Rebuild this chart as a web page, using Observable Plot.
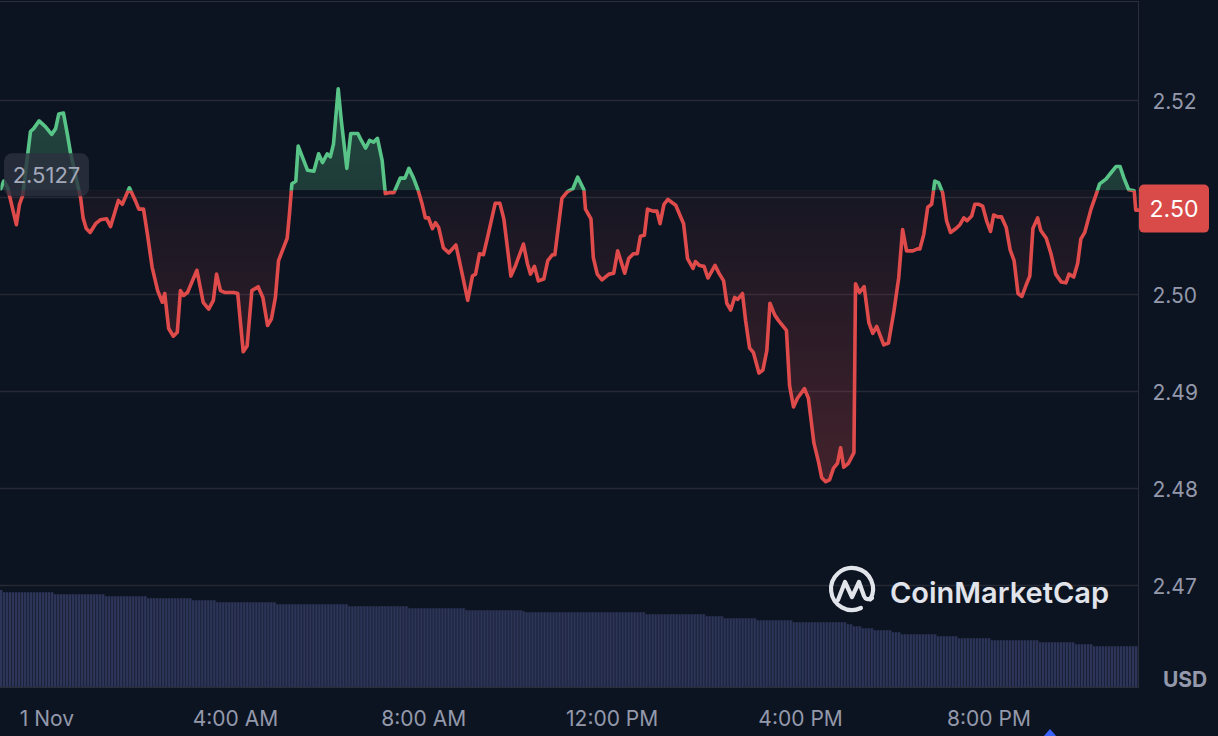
<!DOCTYPE html>
<html><head><meta charset="utf-8">
<script src="https://cdn.jsdelivr.net/npm/d3@7"></script>
<script src="https://cdn.jsdelivr.net/npm/@observablehq/plot@0.6"></script>
<style>
html,body{margin:0;padding:0;background:#0d1421;}
#chart{position:relative;width:1218px;height:736px;overflow:hidden;background:#0d1421;font-family:Inter,"Noto Sans",sans-serif;}
#chart svg{position:absolute;left:0;}
#frame{position:absolute;left:0;top:1px;width:1139px;height:687px;border-top:1px solid #2a2e3a;border-right:1px solid #2a2e3a;box-sizing:border-box;}
</style></head><body><div id="chart"><div id="frame"></div></div>
<script>
// ---- data (minutes from 1 Nov 00:00, price in USD) ----
const priceMinutes = [-59,-55,-50,-46,-39,-35,-31,-21,-17,-10,-2,6,11,15,21,26,30,43,46,50,55,62,68,76,81,91,96,105,113,117,123,128,134,141,147,150,155,161,166,170,174,179,191,199,206,212,216,221,227,238,243,250,255,261,269,275,281,286,291,295,306,309,312,317,320,332,340,346,351,357,361,365,371,375,382,387,396,399,406,411,416,421,427,431,436,442,450,456,461,467,473,478,482,486,491,495,499,505,512,521,529,536,542,546,551,556,561,571,577,582,591,597,607,612,616,621,626,633,638,644,647,656,663,670,676,684,686,693,696,701,707,716,722,727,736,741,747,752,756,761,765,772,777,781,786,791,801,811,816,823,826,831,837,842,851,856,862,866,871,876,880,886,890,895,900,907,912,917,921,927,932,942,946,951,956,965,970,977,983,987,992,997,1002,1007,1011,1015,1021,1028,1030,1035,1041,1047,1052,1057,1066,1072,1079,1085,1090,1095,1103,1109,1112,1117,1122,1127,1131,1136,1141,1146,1151,1158,1163,1168,1172,1178,1182,1187,1192,1197,1202,1206,1211,1216,1222,1227,1232,1237,1242,1247,1252,1256,1262,1266,1273,1279,1285,1292,1298,1302,1308,1313,1317,1322,1330,1336,1341,1349,1355,1362,1367,1372,1378,1385,1387,1391];
const priceValues = [2.5109,2.5117,2.5110,2.5096,2.5072,2.5093,2.5102,2.5168,2.5171,2.5179,2.5173,2.5165,2.5171,2.5186,2.5187,2.5165,2.5146,2.5099,2.5079,2.5068,2.5064,2.5073,2.5077,2.5078,2.5070,2.5097,2.5093,2.5110,2.5096,2.5088,2.5088,2.5062,2.5028,2.5004,2.4992,2.5001,2.4965,2.4957,2.4961,2.5004,2.4999,2.5002,2.5025,2.4992,2.4985,2.4994,2.5021,2.5004,2.5002,2.5002,2.5001,2.4941,2.4947,2.5004,2.5008,2.4997,2.4968,2.4975,2.4997,2.5035,2.5058,2.5084,2.5114,2.5117,2.5153,2.5128,2.5127,2.5145,2.5136,2.5145,2.5142,2.5155,2.5212,2.5179,2.5130,2.5166,2.5166,2.5161,2.5151,2.5159,2.5157,2.5161,2.5138,2.5104,2.5105,2.5105,2.5120,2.5120,2.5130,2.5120,2.5107,2.5093,2.5079,2.5079,2.5068,2.5074,2.5069,2.5048,2.5043,2.5051,2.5021,2.4994,2.5019,2.5021,2.5042,2.5041,2.5058,2.5094,2.5094,2.5078,2.5019,2.5030,2.5052,2.5032,2.5021,2.5029,2.5014,2.5016,2.5035,2.5041,2.5041,2.5099,2.5106,2.5109,2.5121,2.5108,2.5088,2.5078,2.5038,2.5021,2.5015,2.5021,2.5022,2.5045,2.5022,2.5037,2.5042,2.5042,2.5060,2.5061,2.5088,2.5086,2.5086,2.5073,2.5093,2.5098,2.5092,2.5073,2.5037,2.5027,2.5034,2.5030,2.5029,2.5017,2.5030,2.5022,2.5014,2.4991,2.4984,2.4997,2.4995,2.5001,2.4973,2.4945,2.4940,2.4919,2.4922,2.4942,2.4991,2.4979,2.4973,2.4963,2.4906,2.4884,2.4893,2.4903,2.4893,2.4847,2.4827,2.4811,2.4807,2.4809,2.4821,2.4826,2.4842,2.4822,2.4826,2.4837,2.5011,2.5002,2.5008,2.4971,2.4960,2.4967,2.4948,2.4950,2.4983,2.5017,2.5067,2.5045,2.5045,2.5047,2.5047,2.5062,2.5090,2.5093,2.5117,2.5115,2.5105,2.5076,2.5064,2.5068,2.5072,2.5079,2.5076,2.5081,2.5093,2.5093,2.5091,2.5076,2.5065,2.5082,2.5080,2.5080,2.5069,2.5046,2.5035,2.5001,2.4998,2.5009,2.5019,2.5068,2.5079,2.5066,2.5058,2.5042,2.5021,2.5013,2.5012,2.5021,2.5018,2.5032,2.5057,2.5064,2.5088,2.5102,2.5114,2.5119,2.5125,2.5132,2.5132,2.5120,2.5108,2.5107,2.5087,2.5087];

// volume: step levels (relative units) starting at these minutes
const volumeStepStart = [-60,-57,8,72,128,183,213,292,383,458,533,603,610,762,838,859,903,947,1018,1026,1036,1052,1075,1085,1134,1160,1202,1262,1308,1333];
const volumeStepLevel = [97,94.7,92.7,90.7,88.7,86.7,84.7,82.7,80.7,78.7,76.7,75.7,74.7,72.7,70.7,68.7,66.7,64.7,62.7,60.7,58.7,56.7,54.7,52.7,50.7,48.7,46.7,44.7,42.7,40.7];
const volumeBarCount = 379;

const gridValues = [2.47, 2.48, 2.49, 2.50, 2.51, 2.52];
// 2.51 label is hidden behind the last-price badge in the reference
const yLabelValues = [2.47, 2.48, 2.49, 2.50, 2.52];
const yLabelTexts = ["2.47", "2.48", "2.49", "2.50", "2.52"];
const xTickMinutes = [0, 240, 480, 720, 960, 1200];
const xTickLabels = ["1 Nov", "4:00 AM", "8:00 AM", "12:00 PM", "4:00 PM", "8:00 PM"];
const domainMinutes = [-59.2, 1390.5];

const openPrice = 2.5127, openLabel = "2.5127";
const splitPrice = 2.5107;
const lastLabel = "2.50";
const unitLabel = "USD";
const brandLabel = "CoinMarketCap";

// ---- build ----
const T0 = Date.UTC(2023, 10, 1);
const toDate = m => new Date(T0 + m * 60000);
const prices = priceMinutes.map((m, i) => ({t: toDate(m), p: priceValues[i]}));
const xDomain = [toDate(domainMinutes[0]), toDate(domainMinutes[1])];
const X_RANGE = [0, 1138];
const GREEN = "#58c487", RED = "#df4b4b", LABEL = "#9399ab", GRID = "#262a36";

const barSpan = (domainMinutes[1] - domainMinutes[0]) / volumeBarCount;
const bars = d3.range(volumeBarCount).map(i => {
  const m0 = domainMinutes[0] + i * barSpan;
  const k = Math.max(0, d3.bisectRight(volumeStepStart, m0) - 1);
  return {t1: toDate(m0), t2: toDate(m0 + barSpan), v: volumeStepLevel[k]};
});

const chart = document.getElementById("chart");

const vol = Plot.plot({
  width: 1218, height: 101, marginLeft: 0, marginRight: 80, marginTop: 0, marginBottom: 1,
  x: {type: "utc", domain: xDomain, range: X_RANGE, axis: null},
  y: {domain: [0, 100], range: [100, 0], axis: null},
  style: {background: "transparent"},
  marks: [
    Plot.rect(bars, {x1: "t1", x2: "t2", y1: 0, y2: "v", fill: "#1c2239"}),
    Plot.rect(bars, {x1: "t1", x2: "t2", y1: 0, y2: "v", fill: "#2d3659", insetRight: 1}),
    Plot.ruleY([0], {stroke: "#2a2e3a", strokeWidth: 1.5})
  ]
});
vol.style.top = "587px";
chart.appendChild(vol);

const main = Plot.plot({
  width: 1218, height: 736, marginLeft: 0, marginRight: 80, marginTop: 0, marginBottom: 49,
  x: {type: "utc", domain: xDomain, range: X_RANGE, axis: null},
  y: {domain: [2.47, 2.52], range: [585, 100], axis: null},
  style: {background: "transparent", fontFamily: "Inter, 'Noto Sans', sans-serif", overflow: "visible"},
  marks: [
    Plot.ruleY(gridValues, {stroke: GRID, strokeWidth: 1.5}),
    Plot.areaY(prices, {x: "t", y1: () => splitPrice, y2: "p", fill: GREEN}),
    Plot.areaY(prices, {x: "t", y1: () => splitPrice, y2: "p", fill: RED}),
    Plot.line(prices, {x: "t", y: "p", stroke: GREEN, strokeWidth: 3.6}),
    Plot.line(prices, {x: "t", y: "p", stroke: RED, strokeWidth: 3.6}),
    Plot.text(yLabelValues, {y: d => d, text: (d, i) => yLabelTexts[i], frameAnchor: "right", textAnchor: "start", dx: 14, dy: 2, fill: LABEL, fontSize: 21}),
    Plot.text(xTickMinutes, {x: d => toDate(d), text: (d, i) => xTickLabels[i], frameAnchor: "bottom", dy: 38, fill: LABEL, fontSize: 21})
  ]
});
main.style.top = "0px";
chart.appendChild(main);

// ---- post-processing: split colouring, gradients, annotations ----
const ns = "http://www.w3.org/2000/svg";
function el(tag, attrs, parent) {
  const e = document.createElementNS(ns, tag);
  for (const k in attrs) e.setAttribute(k, attrs[k]);
  if (parent) parent.appendChild(e);
  return e;
}
let ys;
try { ys = main.scale("y"); } catch (e) { ys = null; }
const yOf = v => (ys && ys.apply) ? ys.apply(v) : 585 + (v - 2.47) / 0.05 * (100 - 585);
const yb = yOf(splitPrice);

const defs = el("defs", {}, null);
main.insertBefore(defs, main.firstChild);
const cu = el("clipPath", {id: "clipUp"}, defs);
el("rect", {x: 0, y: 0, width: 1218, height: yb}, cu);
const cd = el("clipPath", {id: "clipDown"}, defs);
el("rect", {x: 0, y: yb, width: 1218, height: 736 - yb}, cd);
const gu = el("linearGradient", {id: "gradUp", gradientUnits: "userSpaceOnUse", x1: 0, x2: 0, y1: yOf(2.5212), y2: yb}, defs);
el("stop", {offset: "0", "stop-color": GREEN, "stop-opacity": 0.3}, gu);
el("stop", {offset: "1", "stop-color": GREEN, "stop-opacity": 0.22}, gu);
const gd = el("linearGradient", {id: "gradDown", gradientUnits: "userSpaceOnUse", x1: 0, x2: 0, y1: yb, y2: yOf(2.4800)}, defs);
el("stop", {offset: "0", "stop-color": RED, "stop-opacity": 0.04}, gd);
el("stop", {offset: "1", "stop-color": RED, "stop-opacity": 0.26}, gd);

const areas = main.querySelectorAll('g[aria-label="area"]');
const lines = main.querySelectorAll('g[aria-label="line"]');
if (areas.length >= 2) {
  areas[0].setAttribute("fill", "url(#gradUp)"); areas[0].setAttribute("clip-path", "url(#clipUp)");
  areas[1].setAttribute("fill", "url(#gradDown)"); areas[1].setAttribute("clip-path", "url(#clipDown)");
  areas.forEach(a => a.querySelectorAll("path").forEach(p => { p.removeAttribute("fill"); }));
}
if (lines.length >= 2) {
  lines[0].setAttribute("clip-path", "url(#clipUp)");
  lines[1].setAttribute("clip-path", "url(#clipDown)");
}

const ann = el("g", {"font-family": "Inter, 'Noto Sans', sans-serif", "text-anchor": "start"}, main);
// open price tag
const yo = yOf(openPrice) + 4;
el("rect", {x: 4, y: yo - 21.5, width: 85, height: 43, rx: 8, fill: "#2c3140", "fill-opacity": 0.8}, ann);
const t1 = el("text", {x: 46.5, y: yo, "text-anchor": "middle", "dominant-baseline": "central", fill: "#a3a9ba", "font-size": 22}, ann);
t1.textContent = openLabel;
// last price badge
const yl = yOf(priceValues[priceValues.length - 1]) - 1;
el("rect", {x: 1139, y: yl - 24, width: 70, height: 48, rx: 5, fill: "#d94b49"}, ann);
const t2 = el("text", {x: 1174, y: yl, "text-anchor": "middle", "dominant-baseline": "central", fill: "#ffffff", "font-size": 23, "font-weight": 400}, ann);
t2.textContent = lastLabel;
// currency unit
const t3 = el("text", {x: 1163, y: 679, "text-anchor": "start", "dominant-baseline": "central", fill: LABEL, "font-size": 21, "font-weight": 700}, ann);
t3.textContent = unitLabel;
// watermark
const wm = el("g", {stroke: "#e1e4ea", fill: "none", "stroke-width": 4.2, "stroke-linecap": "round", "stroke-linejoin": "round"}, ann);
el("path", {d: "M 860.9 608.0 A 21 21 0 1 1 870.2 599.5"}, wm);
el("path", {d: "M 838 600 L 845 582 L 852 597 L 859 582 L 864 596 Q 866 601 872 598"}, wm);
const t4 = el("text", {x: 890, y: 603, "text-anchor": "start", fill: "#e1e4ea", "font-size": 29, "font-weight": 600}, ann);
t4.textContent = brandLabel;
// small marker at the bottom
el("path", {d: "M 1043 737 L 1050 729 L 1057 737 Z", fill: "#3861fb"}, ann);
</script></body></html>
